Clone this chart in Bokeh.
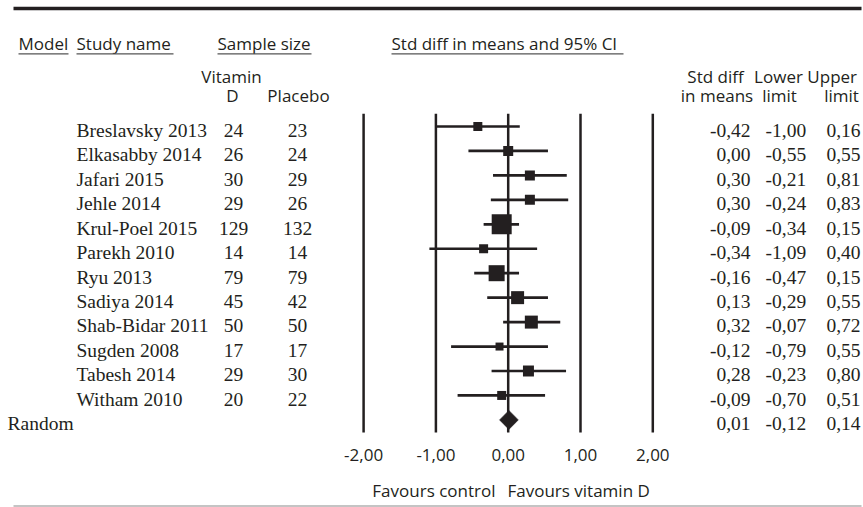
from bokeh.plotting import figure
from bokeh.models import Range1d, ColumnDataSource
from bokeh.core.properties import value
from bokeh.embed import file_html
from bokeh.resources import INLINE
import numpy as np

# ---------------- data ----------------
studies = ["Breslavsky 2013", "Elkasabby 2014", "Jafari 2015", "Jehle 2014",
           "Krul-Poel 2015", "Parekh 2010", "Ryu 2013", "Sadiya 2014",
           "Shab-Bidar 2011", "Sugden 2008", "Tabesh 2014", "Witham 2010"]
n_vitd = [24, 26, 30, 29, 129, 14, 79, 45, 50, 17, 29, 20]
n_placebo = [23, 24, 29, 26, 132, 14, 79, 42, 50, 17, 30, 22]
smd = [-0.42, 0.00, 0.30, 0.30, -0.09, -0.34, -0.16, 0.13, 0.32, -0.12, 0.28, -0.09]
lower = [-1.00, -0.55, -0.21, -0.24, -0.34, -1.09, -0.47, -0.29, -0.07, -0.79, -0.23, -0.70]
upper = [0.16, 0.55, 0.81, 0.83, 0.15, 0.40, 0.15, 0.55, 0.72, 0.55, 0.80, 0.51]
weight = [4.7, 5.8, 5.8, 5.8, 23.2, 4.7, 14.9, 9.8, 9.8, 3.7, 7.0, 4.7]  # relative weight (%)
pooled_label = "Random"
pooled = [0.01, -0.12, 0.14]  # estimate, lower, upper
tick_values = [-2, -1, 0, 1, 2]
tick_labels = ["-2,00", "-1,00", "0,00", "1,00", "2,00"]

# ---------------- layout helpers ----------------
W, H = 863, 507
X0, XS = 507.7, 72.3      # pixel of 0 and pixels per unit
Y0, YS = 126.0, 24.45     # pixel of first row centre and row pitch
TFIX = -7.0               # text baseline correction (px)


def px2x(px):
    return (px - X0) / XS


def py2y(py):
    return (py - Y0) / YS


def ty(py):
    return py2y(py + TFIX)


INK = "#231f20"
SERIF = value("Liberation Serif")
SANS = value("Open Sans")
SERIF_SIZE = "19.5px"
SANS_SIZE = "17px"

p = figure(width=W, height=H, output_backend="svg", toolbar_location=None,
           x_range=Range1d(px2x(0), px2x(W)), y_range=Range1d(py2y(H), py2y(0)),
           min_border=0, outline_line_color=None, background_fill_color="white",
           border_fill_color="white")
p.axis.visible = False
p.grid.visible = False

nrow = len(studies)
rows = list(range(nrow))
prow = nrow

fmt = lambda v: f"{v:.2f}".replace(".", ",")

# rules top/bottom
p.segment(x0=[px2x(13)], x1=[px2x(861)], y0=[py2y(8)], y1=[py2y(8)],
          line_color=INK, line_width=3.5)
p.segment(x0=[px2x(13)], x1=[px2x(861)], y0=[py2y(505.5)], y1=[py2y(505.5)],
          line_color="#b0b0b0", line_width=1.5)

# headers
hdr = ["Model", "Study name", "Sample size", "Std diff in means and 95% CI"]
hdr_x = [18, 76, 217, 391]
hdr_end = [68, 173, 311, 623]
p.text(x=[px2x(v) for v in hdr_x], y=[ty(50)] * 4, text=hdr,
       text_font=SANS, text_font_size=SANS_SIZE, text_color=INK,
       text_align="left", text_baseline="alphabetic")
p.segment(x0=[px2x(v) for v in hdr_x], x1=[px2x(v) for v in hdr_end],
          y0=[py2y(53.3)] * 4, y1=[py2y(53.3)] * 4, line_color="#555555", line_width=1.3)

sub1 = ["Vitamin", "Std diff", "Lower", "Upper"]
sub1_x = [231, 715, 778, 831.7]
sub2 = ["D", "Placebo", "in means", "limit", "limit"]
sub2_x = [232, 298, 716.5, 779, 841]
p.text(x=[px2x(v) for v in sub1_x], y=[ty(83.3)] * len(sub1), text=sub1,
       text_font=SANS, text_font_size=SANS_SIZE, text_color=INK,
       text_align="center", text_baseline="alphabetic")
p.text(x=[px2x(v) for v in sub2_x], y=[ty(101.7)] * len(sub2), text=sub2,
       text_font=SANS, text_font_size=SANS_SIZE, text_color=INK,
       text_align="center", text_baseline="alphabetic")

# vertical reference lines
p.segment(x0=tick_values, x1=tick_values, y0=[py2y(113.3)] * 5, y1=[py2y(432)] * 5,
          line_color=INK, line_width=2.5)

# CI lines and squares
src = ColumnDataSource(dict(
    y=rows, smd=smd, lo=lower, hi=upper,
    size=[4.15 * np.sqrt(w) for w in weight],
    name=studies, nv=[str(v) for v in n_vitd], npl=[str(v) for v in n_placebo],
    smd_t=[fmt(v) for v in smd], lo_t=[fmt(v) for v in lower], hi_t=[fmt(v) for v in upper],
))
p.segment(x0="lo", x1="hi", y0="y", y1="y", source=src, line_color=INK, line_width=2.7)
p.scatter(x="smd", y="y", size="size", marker="square", source=src,
          fill_color=INK, line_color=INK, line_width=0)

# pooled diamond
dh = 9.5 / YS
p.patch(x=[pooled[1], pooled[0], pooled[2], pooled[0]],
        y=[prow, prow - dh, prow, prow + dh], fill_color=INK, line_color=INK, line_width=0.5)

# row texts
BOFF = 10.8 + TFIX
common = dict(text_font=SERIF, text_font_size=SERIF_SIZE, text_color=INK,
              text_baseline="alphabetic", y_offset=BOFF)
p.text(x=px2x(76), y="y", text="name", source=src, text_align="left", **common)
p.text(x=px2x(233), y="y", text="nv", source=src, text_align="center", **common)
p.text(x=px2x(297), y="y", text="npl", source=src, text_align="center", **common)
p.text(x=px2x(750), y="y", text="smd_t", source=src, text_align="right", **common)
p.text(x=px2x(805.7), y="y", text="lo_t", source=src, text_align="right", **common)
p.text(x=px2x(860), y="y", text="hi_t", source=src, text_align="right", **common)

# pooled texts
p.text(x=[px2x(7)], y=[prow], text=[pooled_label], text_align="left", **common)
p.text(x=[px2x(750), px2x(805.7), px2x(860)], y=[prow] * 3,
       text=[fmt(v) for v in pooled], text_align="right", **common)

# tick labels
p.text(x=tick_values, y=[ty(461.7)] * 5, text=tick_labels,
       text_font=SANS, text_font_size=SANS_SIZE, text_color=INK,
       text_align="center", text_baseline="alphabetic")

# favours labels
p.text(x=[px2x(495)], y=[ty(496.7)], text=["Favours control"],
       text_font=SANS, text_font_size=SANS_SIZE, text_color=INK,
       text_align="right", text_baseline="alphabetic")
p.text(x=[px2x(507)], y=[ty(496.7)], text=["Favours vitamin D"],
       text_font=SANS, text_font_size=SANS_SIZE, text_color=INK,
       text_align="left", text_baseline="alphabetic")

open("out.html", "w").write(file_html(p, INLINE))
